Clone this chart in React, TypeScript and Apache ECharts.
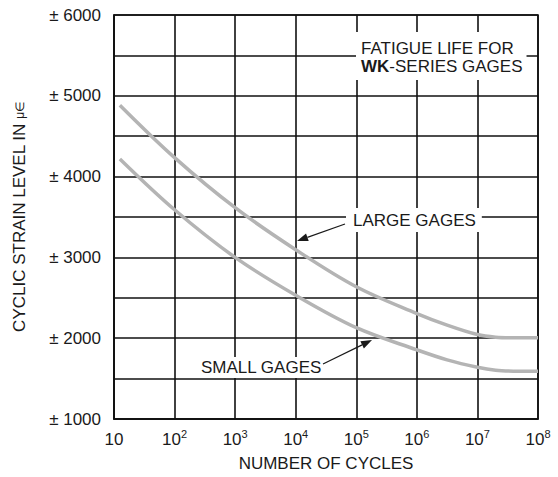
import React, { useEffect, useRef } from 'react';
import * as echarts from 'echarts';

// Tick values
const cycleTicks = [10, 1e2, 1e3, 1e4, 1e5, 1e6, 1e7, 1e8];
const strainTicks = [1000, 2000, 3000, 4000, 5000, 6000];

// Curves: number of cycles vs. cyclic strain (± microstrain)
const largeCycles = [12.5, 1e2, 1e3, 1e4, 1e5, 1e6, 3.16e6, 1e7, 2e7, 4e7, 1e8];
const largeStrain = [4884, 4235, 3615, 3095, 2636, 2305, 2162, 2045, 2012, 2005, 2005];
const smallCycles = [12.5, 1e2, 1e3, 1e4, 1e5, 1e6, 3.16e6, 1e7, 2e7, 4e7, 1e8];
const smallStrain = [4219, 3590, 3000, 2531, 2130, 1856, 1732, 1640, 1603, 1592, 1590];

const FONT = '"Liberation Sans", Arial, Helvetica, sans-serif';
const INK = '#1a1a1a';

function arrow(tail: number[], tip: number[], len = 11, hw = 4) {
  const dx = tip[0] - tail[0];
  const dy = tip[1] - tail[1];
  const d = Math.sqrt(dx * dx + dy * dy);
  const ux = dx / d;
  const uy = dy / d;
  const bx = tip[0] - ux * len;
  const by = tip[1] - uy * len;
  const nx = -uy;
  const ny = ux;
  return [
    {
      type: 'line',
      z: 100,
      shape: { x1: tail[0], y1: tail[1], x2: bx, y2: by },
      style: { stroke: INK, lineWidth: 1.2 },
    },
    {
      type: 'polygon',
      z: 100,
      shape: {
        points: [
          [tip[0], tip[1]],
          [bx + nx * hw, by + ny * hw],
          [bx - nx * hw, by - ny * hw],
        ],
      },
      style: { fill: INK },
    },
  ];
}

export default function App() {
  const ref = useRef<HTMLDivElement>(null);

  useEffect(() => {
    if (!ref.current) return;
    const chart = echarts.init(ref.current, null, { renderer: 'svg' });
    const toPairs = (xs: number[], ys: number[]) => xs.map((x, i) => [x, ys[i]]);

    chart.setOption({
      animation: false,
      backgroundColor: '#fff',
      grid: {
        left: 114,
        right: 20,
        top: 15,
        bottom: 56,
        show: true,
        borderColor: '#111',
        borderWidth: 1.6,
      },
      xAxis: {
        type: 'log',
        logBase: 10,
        min: cycleTicks[0],
        max: cycleTicks[cycleTicks.length - 1],
        name: 'NUMBER OF CYCLES',
        nameLocation: 'middle',
        nameGap: 36,
        nameTextStyle: { fontFamily: FONT, fontSize: 17, color: INK },
        axisLine: { show: true, lineStyle: { color: '#111', width: 1.6 } },
        axisTick: { show: false },
        splitLine: { show: true, lineStyle: { color: '#111', width: 1.6 } },
        axisLabel: {
          margin: 9,
          fontFamily: FONT,
          color: INK,
          formatter: (v: number) => {
            const e = Math.round(Math.log10(v));
            return e === 1 ? '{b|10}' : '{b|10}{s|' + e + '}';
          },
          rich: {
            b: { fontFamily: FONT, fontSize: 17, color: INK, lineHeight: 20, verticalAlign: 'bottom' },
            s: { fontFamily: FONT, fontSize: 11, color: INK, lineHeight: 11, verticalAlign: 'top' },
          },
        },
      },
      yAxis: {
        type: 'value',
        min: 1000,
        max: 6000,
        interval: 500,
        name: 'CYCLIC STRAIN LEVEL IN {m|μ∈}',
        nameLocation: 'middle',
        nameGap: 86,
        nameTextStyle: {
          fontFamily: FONT,
          fontSize: 17,
          color: INK,
          rich: { m: { fontFamily: FONT, fontSize: 12, color: INK } },
        },
        axisLine: { show: true, lineStyle: { color: '#111', width: 1.6 } },
        axisTick: { show: false },
        splitLine: { show: true, lineStyle: { color: '#111', width: 1.6 } },
        axisLabel: {
          margin: 13,
          fontFamily: FONT,
          fontSize: 17,
          color: INK,
          formatter: (v: number) => (strainTicks.includes(v) ? '± ' + v : ''),
        },
      },
      series: [
        {
          name: 'LARGE GAGES',
          type: 'line',
          data: toPairs(largeCycles, largeStrain),
          smooth: 0.35,
          showSymbol: false,
          lineStyle: { color: '#b4b4b4', width: 3.5 },
          z: 5,
        },
        {
          name: 'SMALL GAGES',
          type: 'line',
          data: toPairs(smallCycles, smallStrain),
          smooth: 0.35,
          showSymbol: false,
          lineStyle: { color: '#b4b4b4', width: 3.5 },
          z: 5,
        },
      ],
      graphic: [
        {
          type: 'text',
          z: 100,
          x: 356,
          y: 32,
          style: {
            text: 'FATIGUE LIFE FOR\n{b|WK}-SERIES GAGES',
            font: '17px ' + FONT,
            fill: INK,
            lineHeight: 18,
            backgroundColor: '#fff',
            padding: [7, 4, 5, 5],
            align: 'left',
            verticalAlign: 'top',
            rich: {
              b: { fontFamily: FONT, fontSize: 17, fontWeight: 'bold', fill: INK, lineHeight: 18 },
            },
          },
        },
        {
          type: 'text',
          z: 100,
          x: 346,
          y: 208,
          style: {
            text: 'LARGE GAGES',
            font: '17px ' + FONT,
            fill: INK,
            lineHeight: 22,
            backgroundColor: '#fff',
            padding: [1, 6, 1, 7],
            align: 'left',
            verticalAlign: 'top',
          },
        },
        {
          type: 'text',
          z: 100,
          x: 196,
          y: 357,
          style: {
            text: 'SMALL GAGES',
            font: '17px ' + FONT,
            fill: INK,
            lineHeight: 21,
            backgroundColor: '#fff',
            padding: [0, 4, 0, 5],
            align: 'left',
            verticalAlign: 'top',
          },
        },
        ...arrow([345, 224], [297, 241]),
        ...arrow([323, 364], [372, 340]),
      ],
    });

    return () => chart.dispose();
  }, []);

  return (
    <div
      ref={ref}
      style={{ position: 'fixed', left: 0, top: 0, width: 558, height: 477, background: '#fff' }}
    />
  );
}
